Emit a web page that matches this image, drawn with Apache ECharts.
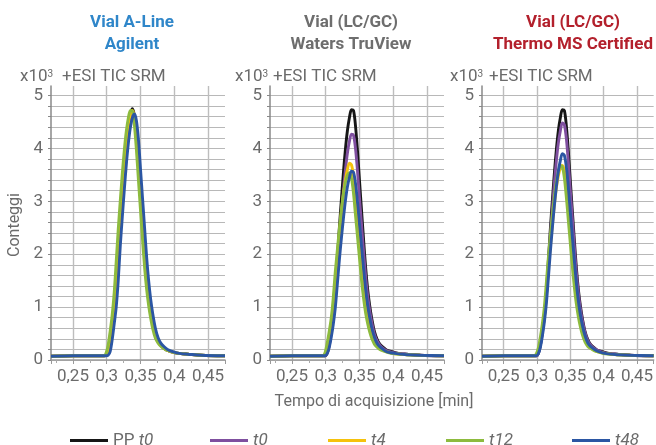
<!DOCTYPE html>
<html><head><meta charset="utf-8">
<script src="https://cdn.jsdelivr.net/npm/echarts@6/dist/echarts.min.js"></script>
<style>html,body{margin:0;padding:0;background:#fff}#c{width:656px;height:445px}</style>
</head><body><div id="c"></div>
<script>
// acquisition time [min]
const time = [0.2175,0.25,0.28,0.296,0.299,0.302,0.305,0.308,0.311,0.314,0.317,0.320,0.323,0.326,0.329,0.332,0.335,0.338,0.341,0.344,0.347,0.350,0.353,0.356,0.359,0.362,0.365,0.368,0.372,0.376,0.380,0.385,0.390,0.400,0.410,0.420,0.440,0.475];

const seriesNames = ['PP t0','t0','t4','t12','t48'];
const xTickLabels = ['0,25','0,3','0,35','0,4','0,45'];
const yTickLabels = ['0','1','2','3','4','5'];

// Vial A-Line Agilent (counts x10^3)
const agilentPP  = [0.07,0.08,0.08,0.08,0.09,0.16,0.39,0.69,1.01,1.52,2.18,2.74,3.27,3.75,4.16,4.46,4.66,4.75,4.61,4.21,3.65,3.10,2.54,1.98,1.52,1.17,0.89,0.68,0.47,0.35,0.28,0.22,0.18,0.14,0.12,0.11,0.09,0.08];
const agilentT0  = [0.07,0.08,0.08,0.08,0.09,0.16,0.39,0.69,1.01,1.52,2.18,2.74,3.27,3.75,4.16,4.46,4.64,4.70,4.58,4.21,3.65,3.10,2.54,1.98,1.52,1.17,0.89,0.68,0.47,0.35,0.28,0.22,0.18,0.14,0.12,0.11,0.09,0.08];
const agilentT4  = [0.07,0.08,0.08,0.08,0.09,0.16,0.39,0.69,1.01,1.52,2.18,2.74,3.27,3.75,4.16,4.46,4.65,4.72,4.59,4.21,3.65,3.10,2.54,1.98,1.52,1.17,0.89,0.68,0.47,0.35,0.28,0.22,0.18,0.14,0.12,0.11,0.09,0.08];
const agilentT12 = [0.07,0.08,0.08,0.08,0.13,0.28,0.54,0.85,1.27,1.86,2.47,3.01,3.52,3.97,4.33,4.58,4.72,4.71,4.43,3.95,3.38,2.82,2.27,1.75,1.34,1.03,0.79,0.59,0.41,0.32,0.26,0.21,0.18,0.14,0.12,0.11,0.09,0.08];
const agilentT48 = [0.07,0.08,0.08,0.08,0.08,0.09,0.16,0.38,0.68,1.00,1.50,2.15,2.70,3.22,3.70,4.10,4.40,4.58,4.65,4.52,4.15,3.60,3.05,2.50,1.95,1.50,1.15,0.88,0.60,0.42,0.32,0.25,0.20,0.15,0.12,0.11,0.09,0.08];

// Vial (LC/GC) Waters TruView
const watersPP  = [0.07,0.08,0.08,0.08,0.08,0.13,0.28,0.54,0.85,1.27,1.86,2.47,3.01,3.52,3.97,4.33,4.58,4.73,4.72,4.43,3.95,3.38,2.82,2.27,1.75,1.34,1.03,0.79,0.54,0.39,0.30,0.24,0.19,0.15,0.12,0.11,0.09,0.08];
const watersT0  = [0.07,0.08,0.08,0.08,0.08,0.12,0.26,0.49,0.78,1.15,1.68,2.23,2.72,3.18,3.58,3.91,4.13,4.27,4.25,4.00,3.57,3.05,2.55,2.05,1.59,1.22,0.94,0.72,0.49,0.36,0.28,0.22,0.18,0.14,0.12,0.11,0.09,0.08];
const watersT4  = [0.07,0.08,0.08,0.08,0.12,0.23,0.44,0.68,1.01,1.47,1.95,2.37,2.77,3.12,3.40,3.60,3.72,3.69,3.48,3.11,2.66,2.23,1.79,1.39,1.07,0.83,0.63,0.48,0.34,0.27,0.22,0.18,0.16,0.12,0.11,0.10,0.09,0.08];
const watersT12 = [0.07,0.08,0.08,0.08,0.14,0.31,0.53,0.78,1.16,1.65,2.06,2.46,2.82,3.12,3.35,3.49,3.54,3.44,3.16,2.74,2.33,1.91,1.50,1.16,0.89,0.69,0.53,0.41,0.30,0.24,0.20,0.17,0.15,0.12,0.11,0.10,0.09,0.08];
const watersT48 = [0.07,0.08,0.08,0.08,0.08,0.12,0.23,0.42,0.66,0.97,1.41,1.87,2.28,2.66,3.00,3.27,3.45,3.57,3.55,3.34,2.98,2.56,2.14,1.72,1.34,1.03,0.80,0.61,0.43,0.31,0.25,0.20,0.16,0.13,0.11,0.10,0.09,0.08];

// Vial (LC/GC) Thermo MS Certified
const thermoPP  = [0.07,0.08,0.08,0.08,0.08,0.13,0.28,0.54,0.85,1.27,1.86,2.47,3.01,3.52,3.97,4.33,4.58,4.73,4.72,4.43,3.95,3.38,2.82,2.27,1.75,1.34,1.03,0.79,0.54,0.39,0.30,0.24,0.19,0.15,0.12,0.11,0.09,0.08];
const thermoT0  = [0.07,0.08,0.08,0.08,0.08,0.12,0.27,0.51,0.81,1.21,1.76,2.34,2.85,3.34,3.76,4.10,4.33,4.48,4.45,4.19,3.74,3.20,2.68,2.15,1.66,1.28,0.98,0.75,0.52,0.37,0.29,0.23,0.19,0.14,0.12,0.11,0.09,0.08];
const thermoT4  = [0.07,0.08,0.08,0.08,0.09,0.15,0.32,0.55,0.80,1.20,1.71,2.14,2.55,2.93,3.25,3.48,3.63,3.68,3.58,3.29,2.85,2.42,1.99,1.55,1.20,0.92,0.71,0.55,0.38,0.29,0.23,0.19,0.16,0.13,0.11,0.10,0.09,0.08];
const thermoT12 = [0.07,0.08,0.08,0.08,0.12,0.23,0.43,0.68,1.00,1.46,1.93,2.35,2.74,3.09,3.37,3.56,3.68,3.65,3.45,3.08,2.64,2.20,1.77,1.38,1.06,0.82,0.63,0.48,0.34,0.26,0.22,0.18,0.16,0.12,0.11,0.10,0.09,0.08];
const thermoT48 = [0.07,0.08,0.08,0.08,0.08,0.12,0.24,0.45,0.71,1.06,1.54,2.04,2.49,2.91,3.27,3.57,3.77,3.90,3.87,3.65,3.26,2.79,2.33,1.88,1.46,1.12,0.86,0.66,0.46,0.33,0.26,0.21,0.17,0.13,0.11,0.10,0.09,0.08];

const colors = ['#161616','#7f4f9f','#f5c20c','#8dbb3e','#2b56a3'];
const FONT = "Roboto, 'Liberation Sans', sans-serif";
const GRAY = '#6b6b6b';

const panels = [
  {left:51,  titles:['Vial A-Line','Agilent'], tcolor:'#2f86c9', cx:132, xTxt:20, esi:62,  data:[agilentPP,agilentT0,agilentT4,agilentT12,agilentT48]},
  {left:270, titles:['Vial (LC/GC)','Waters TruView'], tcolor:'#6e6e6e', cx:351, xTxt:235, esi:273, data:[watersPP,watersT0,watersT4,watersT12,watersT48]},
  {left:482, titles:['Vial (LC/GC)','Thermo MS Certified'], tcolor:'#b3202c', cx:573, xTxt:450, esi:489, data:[thermoPP,thermoT0,thermoT4,thermoT12,thermoT48]}
];

const grid = [], xAxis = [], yAxis = [], series = [], graphic = [];
panels.forEach((p, i) => {
  grid.push({left:p.left, top:86, width:174, height:274});
  xAxis.push({
    type:'value', gridIndex:i, min:0.2175, max:0.475, splitNumber:5,
    axisLine:{show:true, onZero:false, lineStyle:{color:'#9a9a9a', width:1.5}},
    axisTick:{show:true, length:4, lineStyle:{color:'#9a9a9a'}},
    minorTick:{show:true, splitNumber:2, length:3, lineStyle:{color:'#aaaaaa'}},
    splitLine:{show:true, showMinLine:false, showMaxLine:false, lineStyle:{color:'#bdbdbd', width:1.4}},
    axisLabel:{showMinLabel:false, showMaxLabel:false, color:GRAY, fontSize:17, fontFamily:FONT, margin:8,
      formatter:v => { const k = Math.round((v - 0.25) / 0.05); return (k >= 0 && k < xTickLabels.length && Math.abs(v - (0.25 + k*0.05)) < 1e-6) ? xTickLabels[k] : ''; }}
  });
  yAxis.push({
    type:'value', gridIndex:i, min:0, max:5.18, interval:0.2,
    axisLine:{show:true, lineStyle:{color:'#888888', width:1.5}},
    axisTick:{show:true, length:3, lineStyle:{color:'#888888'}},
    splitLine:{show:true, showMaxLine:false, lineStyle:{color:'#b8b8b8', width:1}},
    axisLabel:{showMaxLabel:false, color:GRAY, fontSize:17, fontFamily:FONT, margin:8,
      formatter:v => { const r = Math.round(v); return Math.abs(v - r) < 1e-6 && r < yTickLabels.length ? yTickLabels[r] : ''; }}
  });
  p.data.forEach((arr, j) => {
    series.push({
      type:'line', name:seriesNames[j], xAxisIndex:i, yAxisIndex:i,
      data: time.map((t, k) => [t, arr[k]]),
      showSymbol:false, smooth:0.3, animation:false,
      lineStyle:{color:colors[j], width:2.9}, itemStyle:{color:colors[j]}
    });
  });
  graphic.push({type:'text', x:p.cx, y:12, style:{text:p.titles.join('\n'), align:'center', verticalAlign:'top',
    fill:p.tcolor, fontSize:17, fontWeight:'bold', fontFamily:FONT, lineHeight:21.5}});
  graphic.push({type:'text', x:p.xTxt, y:77, style:{text:'x10', align:'left', verticalAlign:'middle', fill:GRAY, fontSize:17, fontFamily:FONT}});
  graphic.push({type:'text', x:p.xTxt + 27.5, y:69.5, style:{text:'3', align:'left', verticalAlign:'top', fill:GRAY, fontSize:10, fontFamily:FONT}});
  graphic.push({type:'text', x:p.esi, y:77, style:{text:'+ESI TIC SRM', align:'left', verticalAlign:'middle', fill:GRAY, fontSize:17, fontFamily:FONT}});
});

graphic.push({type:'text', x:15, y:225, rotation:Math.PI/2, style:{text:'Conteggi', align:'center', verticalAlign:'middle', fill:GRAY, fontSize:16, fontFamily:FONT}});
graphic.push({type:'text', x:374, y:402, style:{text:'Tempo di acquisizione [min]', align:'center', verticalAlign:'middle', fill:GRAY, fontSize:16, fontFamily:FONT}});

const legendLefts = [65, 205, 323, 441, 567];
const legend = seriesNames.map((n, j) => ({
  data:[n], left:legendLefts[j], top:427, icon:'rect', itemWidth:38, itemHeight:3, selectedMode:false,
  textStyle:{color:GRAY, fontSize:17, fontFamily:FONT, rich:{i:{fontStyle:'italic', color:GRAY, fontSize:17, fontFamily:FONT}}},
  formatter: name => name === 'PP t0' ? 'PP {i|t0}' : '{i|' + name + '}'
}));

const chart = echarts.init(document.getElementById('c'), null, {renderer:'canvas'});
chart.setOption({backgroundColor:'#ffffff', animation:false, grid, xAxis, yAxis, series, legend, graphic});
</script></body></html>
